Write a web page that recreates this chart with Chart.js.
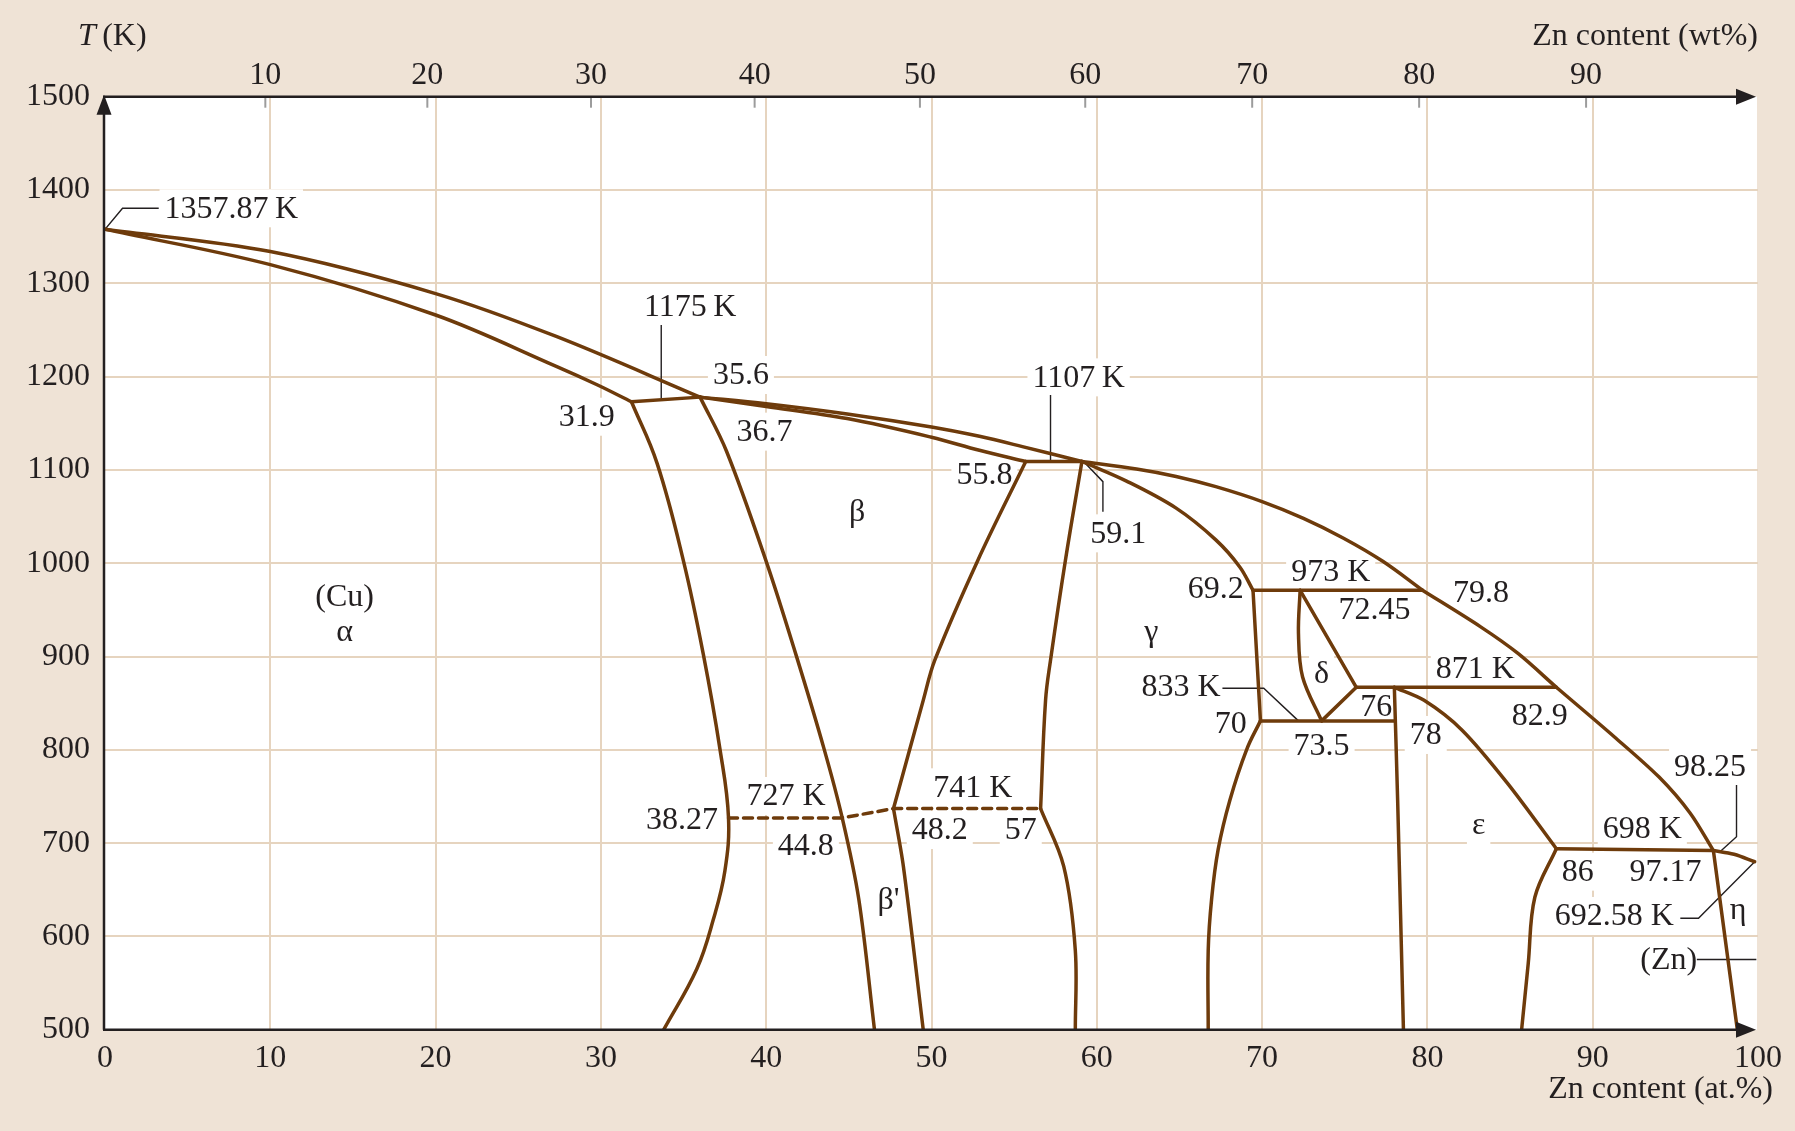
<!DOCTYPE html>
<html>
<head>
<meta charset="utf-8">
<script src="https://cdn.jsdelivr.net/npm/chart.js@4.4.0/dist/chart.umd.min.js"></script>
<style>
  html, body { margin: 0; padding: 0; background: #EFE3D6; }
  #wrap { width: 1795px; height: 1131px; }
</style>
</head>
<body>
<div id="wrap"><canvas id="myChart" width="1795" height="1131"></canvas></div>
<script>
// Cu-Zn phase diagram: x = Zn content (at.%), y = temperature (K)

const wtTicks = [10, 20, 30, 40, 50, 60, 70, 80, 90];
const wtTickAt = [9.7, 19.5, 29.4, 39.3, 49.3, 59.3, 69.4, 79.5, 89.6]; // at.% where each wt% tick sits

// phase boundaries, [at.%, K]
const liquidusCu = [[0, 1357.87], [10, 1334], [20, 1289], [27.3, 1243], [36.0, 1178]];
const solidusCu = [[0, 1357.87], [10, 1320], [20, 1266], [27.3, 1211], [29.8, 1191], [31.85, 1173]];
const tie1175 = [[31.85, 1173], [36.0, 1178]];
const liquidusBeta = [[36.0, 1178], [40, 1171], [44.9, 1160], [50, 1146], [52.9, 1136], [55.5, 1125], [59.1, 1109]];
const solidusBeta = [[36.0, 1178], [40, 1168], [44.9, 1155], [50, 1135], [52.9, 1121], [55.7, 1109]];
const tie1107 = [[55.7, 1109], [59.1, 1109]];
const liquidusGamma = [[59.1, 1109], [62.4, 1101], [64.8, 1093], [67.2, 1082], [70, 1066], [72.5, 1048], [74.9, 1027], [77.3, 1002], [79.7, 971]];
const liquidusDelta = [[79.7, 971], [83.2, 932], [85.5, 903], [87.8, 867]];
const liquidusEps = [[87.8, 867], [91.3, 814], [94.0, 771], [95.9, 732], [97.3, 692]];
const solidusGamma = [[59.1, 1109], [61.8, 1088], [64.8, 1059], [67.2, 1025], [68.65, 996], [69.45, 971]];
const alphaSolvus = [[31.85, 1173], [33.4, 1107], [35.0, 1002], [36.2, 902], [37.2, 801], [37.72, 727], [37.5, 670], [36.8, 618], [35.8, 565], [33.8, 500]];
const betaLeft = [[36.0, 1178], [37.6, 1120], [40.0, 1002], [41.8, 902], [43.5, 801], [44.6, 727], [45.6, 640], [46.55, 500]];
const betaRight = [[55.7, 1109], [52.8, 1003], [50.2, 896], [49.5, 853], [47.7, 737]];
const betaPrimeRight = [[47.7, 737], [48.3, 675], [49.5, 500]];
const gammaLeft = [[59.1, 1109], [58.1, 1003], [57.2, 896], [56.9, 853], [56.6, 737]];
const gammaLeftLow = [[56.6, 737], [58.0, 675], [58.7, 585], [58.7, 500]];
const ordering = [[37.72, 727], [44.6, 727], [47.7, 737], [56.6, 737]];
const gammaRightTop = [[69.45, 971], [69.9, 831]];
const tie973 = [[69.45, 971], [79.7, 971]];
const tie833 = [[69.9, 831], [78.0, 831]];
const deltaLeft = [[72.3, 971], [72.2, 925], [72.45, 878], [73.6, 831]];
const deltaRight = [[72.3, 971], [75.7, 867]];
const deltaLow = [[75.7, 867], [73.6, 831]];
const tie871 = [[75.7, 867], [87.8, 867]];
const epsLeft = [[78.0, 867], [78.2, 746], [78.55, 500]];
const epsTop = [[78.0, 867], [79.8, 853], [82.1, 821], [84.85, 764], [87.8, 694]];
const gammaRightLow = [[69.9, 831], [69.06, 800], [68.05, 746], [67.34, 693], [66.94, 639], [66.74, 585], [66.74, 500]];
const epsRight = [[87.8, 694], [86.5, 642], [86.1, 571], [85.7, 500]];
const tie698 = [[87.8, 694], [97.3, 692]];
const liquidusZn = [[97.3, 692], [98.55, 688], [99.8, 680]];
const etaSolvus = [[97.3, 692], [98.75, 500]];

// leader lines for the labels
const leaders = [
  [[0, 1357.87], [1.06, 1380.4], [3.25, 1380.4]],
  [[33.65, 1255.3], [33.65, 1176.7]],
  [[57.2, 1180.3], [57.2, 1109]],
  [[59.2, 1109], [60.37, 1087.4], [60.37, 1055.2]],
  [[67.6, 865.9], [70.1, 865.9], [72.2, 831]],
  [[98.7, 762.3], [98.7, 706.9], [97.7, 690.8]],
  [[95.3, 619.4], [96.4, 619.4], [99.8, 680]],
  [[96.3, 575.3], [99.9, 575.3]]
];

const notes = [
  ['1357.87\u2009K', 3.6, 1380.4, 'left'],
  ['1175\u2009K', 35.4, 1275],
  ['35.6', 38.47, 1201.7],
  ['31.9', 29.15, 1157],
  ['36.7', 39.9, 1141],
  ['1107\u2009K', 58.9, 1199.2],
  ['55.8', 53.2, 1094.5],
  ['59.1', 61.3, 1032],
  ['β', 45.5, 1055],
  ['(Cu)', 14.5, 964.4],
  ['α', 14.5, 926.4],
  ['γ', 63.3, 926.4],
  ['69.2', 67.2, 973.1],
  ['973 K', 74.15, 990.9],
  ['72.45', 76.8, 949.8],
  ['79.8', 83.25, 968.4],
  ['δ', 73.6, 882],
  ['833 K', 65.1, 867.6],
  ['70', 68.1, 827.6],
  ['73.5', 73.6, 805],
  ['76', 76.9, 846.2],
  ['78', 79.9, 815.9],
  ['871 K', 82.9, 887.3],
  ['82.9', 86.8, 836.6],
  ['98.25', 97.1, 781.9],
  ['698 K', 93.0, 715.8],
  ['ε', 83.1, 719.4],
  ['86', 89.1, 669.4],
  ['97.17', 94.4, 669.4],
  ['692.58 K', 91.3, 621.9],
  ['η', 98.8, 628.3],
  ['(Zn)', 94.6, 575.3],
  ['38.27', 34.9, 725.5],
  ['727 K', 41.2, 750.5],
  ['44.8', 42.4, 696.9],
  ['741 K', 52.5, 759.8],
  ['48.2', 50.5, 714],
  ['57', 55.4, 714],
  ["β'", 47.4, 639]
];

const BROWN = '#6E3B0B';
const INK = '#231F20';
const GRID = '#E6D4BF';
const BEIGE = '#EFE3D6';
const FONT = "'Liberation Serif', 'DejaVu Serif', serif";
const FSIZE = 32;

function pts(arr) {
  return arr.map(p => ({ x: p[0], y: p[1] }));
}

function curve(arr, tension, dash) {
  return {
    data: pts(arr),
    showLine: true,
    pointRadius: 0,
    borderColor: BROWN,
    borderWidth: 3.5,
    borderCapStyle: 'round',
    borderJoinStyle: 'round',
    borderDash: dash || [],
    tension: tension
  };
}

const datasets = [
  curve(liquidusCu, 0.35), curve(solidusCu, 0.35), curve(tie1175, 0),
  curve(liquidusBeta, 0.35), curve(solidusBeta, 0.35), curve(tie1107, 0),
  curve(liquidusGamma, 0.35), curve(liquidusDelta, 0.3), curve(liquidusEps, 0.3),
  curve(solidusGamma, 0.35), curve(alphaSolvus, 0.4), curve(betaLeft, 0.35),
  curve(betaRight, 0.35), curve(betaPrimeRight, 0.3), curve(gammaLeft, 0.4),
  curve(gammaLeftLow, 0.35), curve(ordering, 0, [9, 6]),
  curve(gammaRightTop, 0), curve(tie973, 0), curve(tie833, 0),
  curve(deltaLeft, 0.35), curve(deltaRight, 0), curve(deltaLow, 0), curve(tie871, 0),
  curve(epsLeft, 0.3), curve(epsTop, 0.3), curve(gammaRightLow, 0.4),
  curve(epsRight, 0.35), curve(tie698, 0), curve(liquidusZn, 0.35), curve(etaSolvus, 0)
];

leaders.forEach(l => {
  datasets.push({
    data: pts(l), showLine: true, pointRadius: 0,
    borderColor: INK, borderWidth: 1.4, tension: 0
  });
});

const gridColor = ctx => {
  const v = ctx.tick && ctx.tick.value;
  return (v === 0 || v === 100 || v === 500 || v === 1500) ? 'rgba(0,0,0,0)' : GRID;
};

const paper = {
  id: 'paper',
  beforeDraw(chart) {
    const { ctx, chartArea: a } = chart;
    ctx.save();
    ctx.fillStyle = BEIGE;
    ctx.fillRect(0, 0, chart.width, chart.height);
    ctx.fillStyle = '#FFFFFF';
    ctx.fillRect(a.left - 1, a.top, a.right - a.left, a.bottom - a.top);
    ctx.restore();
  },
  beforeDatasetsDraw(chart) {
    const { ctx, scales } = chart;
    ctx.save();
    ctx.font = FSIZE + 'px ' + FONT;
    ctx.textBaseline = 'middle';
    notes.forEach(n => {
      const px = scales.x.getPixelForValue(n[1]);
      const py = scales.y.getPixelForValue(n[2]);
      const w = ctx.measureText(n[0]).width;
      const left = n[3] === 'left' ? px : px - w / 2;
      ctx.fillStyle = '#FFFFFF';
      ctx.fillRect(left - 5, py - 19, w + 10, 38);
      ctx.fillStyle = INK;
      ctx.textAlign = 'left';
      ctx.fillText(n[0], left, py + 1);
    });
    ctx.restore();
  },
  afterDatasetsDraw(chart) {
    const { ctx, chartArea: a, scales } = chart;
    ctx.save();
    // wt% tick marks along the top axis
    ctx.strokeStyle = '#9C9C9C';
    ctx.lineWidth = 2;
    wtTickAt.forEach(v => {
      const px = scales.x2.getPixelForValue(v);
      ctx.beginPath();
      ctx.moveTo(px, a.top);
      ctx.lineTo(px, a.top + 11);
      ctx.stroke();
    });
    // axes
    ctx.strokeStyle = INK;
    ctx.fillStyle = INK;
    ctx.lineWidth = 2.5;
    ctx.beginPath();
    ctx.moveTo(a.left - 1, a.bottom);
    ctx.lineTo(a.left - 1, a.top + 10);
    ctx.moveTo(a.left - 2, a.top);
    ctx.lineTo(a.right - 12, a.top);
    ctx.moveTo(a.left - 2, a.bottom);
    ctx.lineTo(a.right - 12, a.bottom);
    ctx.stroke();
    // arrow heads
    ctx.beginPath();
    ctx.moveTo(a.left - 1, a.top - 2);
    ctx.lineTo(a.left - 8.5, a.top + 18);
    ctx.lineTo(a.left + 6.5, a.top + 18);
    ctx.closePath();
    ctx.fill();
    [a.top, a.bottom].forEach(y => {
      ctx.beginPath();
      ctx.moveTo(a.right - 2, y);
      ctx.lineTo(a.right - 22, y - 8);
      ctx.lineTo(a.right - 22, y + 8);
      ctx.closePath();
      ctx.fill();
    });
    // axis titles
    ctx.textBaseline = 'middle';
    ctx.textAlign = 'left';
    ctx.font = 'italic ' + FSIZE + 'px ' + FONT;
    ctx.fillText('T', 78, 37);
    const tw = ctx.measureText('T').width;
    ctx.font = FSIZE + 'px ' + FONT;
    ctx.fillText('\u2009(K)', 78 + tw, 37);
    ctx.textAlign = 'right';
    ctx.fillText('Zn content (wt%)', 1758, 37);
    ctx.fillText('Zn content (at.%)', 1773, 1090);
    ctx.restore();
  }
};

const tickFont = { family: FONT, size: FSIZE };

new Chart(document.getElementById('myChart'), {
  type: 'scatter',
  data: { datasets },
  options: {
    responsive: false,
    animation: false,
    devicePixelRatio: 1,
    layout: { padding: { left: 0, right: 37, top: 0, bottom: 0 } },
    plugins: { legend: { display: false }, tooltip: { enabled: false } },
    scales: {
      x: {
        type: 'linear', position: 'bottom', min: 0, max: 100,
        ticks: { stepSize: 10, autoSkip: false, maxRotation: 0, font: tickFont, color: INK, padding: 10 },
        grid: { color: gridColor, lineWidth: 2, drawTicks: false },
        border: { display: false },
        afterFit: s => { s.height = 101.3; }
      },
      x2: {
        type: 'linear', position: 'top', min: 0, max: 100,
        afterBuildTicks: s => { s.ticks = wtTickAt.map(v => ({ value: v })); },
        ticks: {
          autoSkip: false, maxRotation: 0, font: tickFont, color: INK, padding: 2,
          callback: (v, i) => wtTicks[i]
        },
        grid: { display: false, drawTicks: false },
        border: { display: false },
        afterFit: s => { s.height = 96.7; }
      },
      y: {
        type: 'linear', position: 'left', min: 500, max: 1500,
        ticks: { stepSize: 100, autoSkip: false, font: tickFont, color: INK, padding: 15, callback: v => String(v) },
        grid: { color: gridColor, lineWidth: 2, drawTicks: false },
        border: { display: false },
        afterFit: s => { s.width = 105; }
      }
    }
  },
  plugins: [paper]
});
</script>
</body>
</html>
